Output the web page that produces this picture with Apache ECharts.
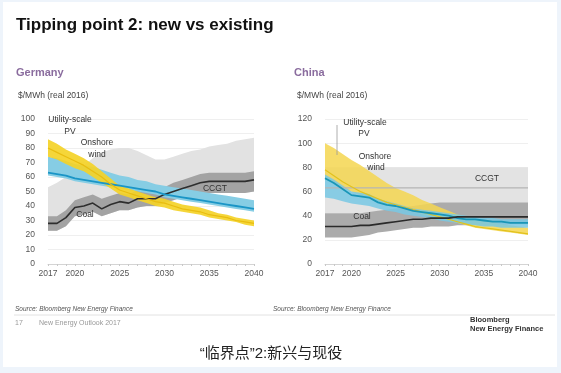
<!DOCTYPE html>
<html><head><meta charset="utf-8">
<script src="https://cdn.jsdelivr.net/npm/echarts@6/dist/echarts.min.js"></script>
<style>
html,body{margin:0;padding:0;background:#eef4fb;width:561px;height:373px;overflow:hidden}
#paper{position:absolute;left:3px;top:2px;width:554px;height:365px;background:#fff}
#chart{position:absolute;left:0;top:0;width:561px;height:373px}
</style></head>
<body><div id="paper"></div><div id="chart"></div>
<script>
// ---- data ----
const years = ['2017','2018','2019','2020','2021','2022','2023','2024','2025','2026','2027','2028','2029','2030','2031','2032','2033','2034','2035','2036','2037','2038','2039','2040'];
const yearLabels = ['2017','2020','2025','2030','2035','2040'];

// Germany
const deCcgtLow  = [23,23,26,33,34,36,33,35,37,37,39,40,40,42,44,46,47,48,49,49,49,49,49,50];
const deCcgtHigh = [53,56,60,64,68,73,77,79,80,80,78,75,72,72,74,76,78,79,81,82,83,85,86,87];
const deCoalLow  = [23,23,26,33,34,36,33,35,37,37,39,40,40,42,44,46,47,48,49,49,49,49,49,50];
const deCoalHigh = [33,33,37,44,46,48,45,47,49,48,51,51,51,53,56,58,60,62,63,63,63,63,63,64];
const deCoalLine = [28,28,32,39,40,42,38,41,43,42,45,45,45,48,50,52,54,56,57,57,57,57,57,58];
const deWindLow  = [61,60,59,57,56,55,54,53,52,51,50,49,48,46,45,44,43,42,41,40,39,38,37,36];
const deWindHigh = [74,73,71,69,68,67,65,63,61,60,58,57,55,54,53,52,51,50,49,48,47,46,45,44];
const deWindLine = [63,62,61,59,58,57,56,55,54,53,52,51,50,48,47,46,45,44,43,42,41,40,39,38];
const dePvLow    = [74,72,69,66,64,60,56,52,48,46,44,42,40,39,37,36,35,34,32,31,30,29,27,26];
const dePvHigh   = [86,83,79,76,73,69,64,59,54,52,50,48,46,45,43,41,40,39,37,35,34,32,31,30];
const dePvLine   = [80,77,74,71,68,64,60,55,51,49,47,45,43,42,40,38,37,36,34,33,32,30,29,28];

// China
const cnCcgtLow  = [42,42,42,42,42,42,42,42,42,42,42,42,42,42,42,42,42,42,42,42,42,42,42,42];
const cnCcgtHigh = [80,80,80,80,80,80,80,80,80,80,80,80,80,80,80,80,80,80,80,80,80,80,80,80];
const cnCcgtLine = [63,63,63,63,63,63,63,63,63,63,63,63,63,63,63,63,63,63,63,63,63,63,63,63];
const cnCoalLow  = [22,22,22,22,23,24,26,27,28,29,30,30,31,31,31,32,32,32,32,32,32,33,33,33];
const cnCoalHigh = [42,42,42,42,42,43,44,45,46,47,48,49,50,51,51,51,51,51,51,51,51,51,51,51];
const cnCoalLine = [31,31,31,31,32,32,33,34,35,36,37,37,38,38,38,39,39,39,39,39,39,39,39,39];
const cnWindLow  = [55,54,52,50,49,48,46,44,43,41,40,39,38,36,35,34,33,32,31,31,30,30,30,30];
const cnWindHigh = [74,70,65,60,59,58,54,52,50,48,46,45,44,43,42,41,40,39,38,38,37,37,37,37];
const cnWindLine = [71,67,62,57,56,55,51,49,48,46,44,43,42,41,40,38,37,37,36,35,35,34,34,34];
const cnPvLow    = [70,67,63,60,57,54,51,49,47,45,43,41,39,38,36,34,32,30,29,28,27,26,25,24];
const cnPvHigh   = [100,96,91,86,82,77,72,67,63,60,57,53,50,47,44,41,39,37,36,35,33,32,31,30];
const cnPvLine   = [78,73,68,64,60,57,54,51,49,47,45,43,41,39,37,35,33,31,30,29,28,27,26,25];

// ---- helpers ----
function band(id, ai, low, high, color) {
  return [
    {type:'line', xAxisIndex:ai, yAxisIndex:ai, stack:id, data:low, symbol:'none', silent:true,
     lineStyle:{width:0, opacity:0}},
    {type:'line', xAxisIndex:ai, yAxisIndex:ai, stack:id, data:high.map((h,i)=>h-low[i]), symbol:'none', silent:true,
     lineStyle:{width:0, opacity:0}, areaStyle:{color:color, opacity:1}}
  ];
}
function line(ai, data, color, w) {
  return {type:'line', xAxisIndex:ai, yAxisIndex:ai, data:data, symbol:'none', silent:true,
          lineStyle:{color:color, width:w}};
}
const FONT = 'Liberation Sans, Arial, sans-serif';
function xAxis(gi) {
  return {type:'category', gridIndex:gi, data:years, boundaryGap:false,
    axisLine:{lineStyle:{color:'#d4d4d4', width:1}},
    axisTick:{show:true, interval:0, length:2, lineStyle:{color:'#c8c8c8'}},
    axisLabel:{interval:(i,v)=>yearLabels.includes(v), color:'#555', fontSize:8.5, fontFamily:FONT, margin:5},
    splitLine:{show:false}};
}
function yAxis(gi, max, step) {
  return {type:'value', gridIndex:gi, min:0, max:max, interval:step,
    axisLine:{show:false}, axisTick:{show:false},
    axisLabel:{color:'#555', fontSize:8.5, fontFamily:FONT, margin:13},
    splitLine:{lineStyle:{color:'#efefef', width:1}}};
}
function txt(x, y, s, o) {
  return {type:'text', x:x, y:y, z:100, silent:true,
    style:Object.assign({text:s, fill:'#333', font:'8.5px '+FONT, textVerticalAlign:'middle'}, o||{})};
}

const chart = echarts.init(document.getElementById('chart'), null, {renderer:'canvas'});
chart.setOption({
  animation:false,
  backgroundColor:'transparent',
  grid:[
    {left:48, top:119, width:206, height:145, outerBoundsMode:'none'},
    {left:325, top:119, width:203, height:145, outerBoundsMode:'none'}
  ],
  xAxis:[xAxis(0), xAxis(1)],
  yAxis:[yAxis(0,100,10), yAxis(1,120,20)],
  series:[
    // Germany
    ...band('deCcgt', 0, deCcgtLow, deCcgtHigh, '#e2e2e2'),
    ...band('deCoal', 0, deCoalLow, deCoalHigh, '#a3a3a3'),
    line(0, deCoalLine, '#2e2e2e', 1.6),
    ...band('deWind', 0, deWindLow, deWindHigh, '#86cde4'),
    line(0, deWindLine, '#1a95c6', 1.8),
    ...band('dePv', 0, dePvLow, dePvHigh, 'rgba(244,210,40,0.92)'),
    line(0, dePvLine, '#e9bd10', 1.2),
    // China
    ...band('cnCcgt', 1, cnCcgtLow, cnCcgtHigh, '#e3e3e3'),
    line(1, cnCcgtLine, '#b5b5b5', 1.2),
    ...band('cnCoal', 1, cnCoalLow, cnCoalHigh, '#ababab'),
    ...band('cnPv', 1, cnPvLow, cnPvHigh, 'rgba(245,214,80,0.85)'),
    ...band('cnWind', 1, cnWindLow, cnWindHigh, 'rgba(120,200,228,0.85)'),
    line(1, cnPvLine, '#e2c21c', 1.2),
    line(1, cnWindLine, '#1996b8', 1.8),
    line(1, cnCoalLine, '#2a2a2a', 1.6)
  ],
  graphic:[
    txt(16, 25, 'Tipping point 2: new vs existing', {font:'bold 17px '+FONT, fill:'#111'}),
    txt(16, 73, 'Germany', {font:'bold 11px '+FONT, fill:'#8a6c9e'}),
    txt(294, 73, 'China', {font:'bold 11px '+FONT, fill:'#8a6c9e'}),
    txt(18, 96, '$/MWh (real 2016)', {font:'8.5px '+FONT, fill:'#444'}),
    txt(297, 96, '$/MWh (real 2016)', {font:'8.5px '+FONT, fill:'#444'}),
    // Germany annotations
    txt(70, 120, 'Utility-scale', {textAlign:'center'}),
    txt(70, 132, 'PV', {textAlign:'center'}),
    txt(97, 143, 'Onshore', {textAlign:'center'}),
    txt(97, 155, 'wind', {textAlign:'center'}),
    txt(215, 189, 'CCGT', {textAlign:'center'}),
    txt(85, 215, 'Coal', {textAlign:'center'}),
    // China annotations
    {type:'line', z:100, silent:true, shape:{x1:337, y1:125, x2:337, y2:155}, style:{stroke:'#999', lineWidth:0.8}},
    txt(365, 123, 'Utility-scale', {textAlign:'center'}),
    txt(364, 134, 'PV', {textAlign:'center'}),
    txt(375, 157, 'Onshore', {textAlign:'center'}),
    txt(376, 168, 'wind', {textAlign:'center'}),
    txt(487, 179, 'CCGT', {textAlign:'center'}),
    txt(362, 217, 'Coal', {textAlign:'center'}),
    // footer
    txt(15, 309, 'Source: Bloomberg New Energy Finance', {font:'italic 6.5px '+FONT, fill:'#555'}),
    txt(273, 309, 'Source: Bloomberg New Energy Finance', {font:'italic 6.5px '+FONT, fill:'#555'}),
    {type:'line', z:100, silent:true, shape:{x1:14, y1:315, x2:555, y2:315}, style:{stroke:'#e2e2e2', lineWidth:1}},
    txt(15, 323, '17', {font:'7px '+FONT, fill:'#999'}),
    txt(39, 323, 'New Energy Outlook 2017', {font:'7px '+FONT, fill:'#999'}),
    txt(470, 320, 'Bloomberg', {font:'bold 7.5px '+FONT, fill:'#333'}),
    txt(470, 329, 'New Energy Finance', {font:'bold 7.5px '+FONT, fill:'#333'}),
    txt(271, 354, '“临界点”2:新兴与现役', {textAlign:'center', font:'15px "Liberation Sans", "Noto Sans CJK SC", sans-serif', fill:'#222'})
  ]
});
</script></body></html>
